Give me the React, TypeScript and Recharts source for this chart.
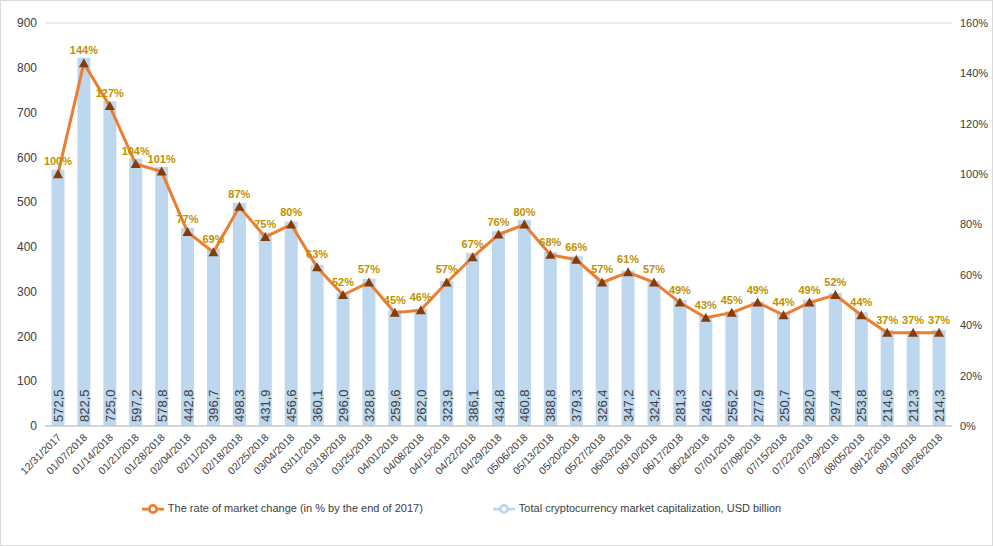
import { ComposedChart, Bar, Line, XAxis, YAxis, CartesianGrid, Legend, LabelList } from "recharts";

// Weekly dates
const dates = [
  "12/31/2017", "01/07/2018", "01/14/2018", "01/21/2018", "01/28/2018", "02/04/2018", "02/11/2018",
  "02/18/2018", "02/25/2018", "03/04/2018", "03/11/2018", "03/18/2018", "03/25/2018", "04/01/2018",
  "04/08/2018", "04/15/2018", "04/22/2018", "04/29/2018", "05/06/2018", "05/13/2018", "05/20/2018",
  "05/27/2018", "06/03/2018", "06/10/2018", "06/17/2018", "06/24/2018", "07/01/2018", "07/08/2018",
  "07/15/2018", "07/22/2018", "07/29/2018", "08/05/2018", "08/12/2018", "08/19/2018", "08/26/2018",
];

// Total market cap, USD billion
const marketCap = [
  572.5, 822.5, 725.0, 597.2, 578.8, 442.8, 396.7, 498.3, 431.9, 456.6, 360.1, 296.0, 328.8, 259.6,
  262.0, 323.9, 386.1, 434.8, 460.8, 388.8, 379.3, 326.4, 347.2, 324.2, 281.3, 246.2, 256.2, 277.9,
  250.7, 282.0, 297.4, 253.8, 214.6, 212.3, 214.3,
];

// Change vs end of 2017, %
const rate = [
  100, 144, 127, 104, 101, 77, 69, 87, 75, 80, 63, 52, 57, 45, 46, 57, 67, 76, 80, 68, 66, 57, 61, 57,
  49, 43, 45, 49, 44, 49, 52, 44, 37, 37, 37,
];

const leftTicks = [0, 100, 200, 300, 400, 500, 600, 700, 800, 900];
const rightTicks = [0, 20, 40, 60, 80, 100, 120, 140, 160];

const data = dates.map((d, i) => ({ date: d, cap: marketCap[i], rate: rate[i] }));

const font = "'Liberation Sans', Arial, sans-serif";

const Triangle = (props: any) => {
  const { cx, cy } = props;
  if (cx == null || cy == null) return null;
  return <polygon points={`${cx},${cy - 5} ${cx - 5},${cy + 4} ${cx + 5},${cy + 4}`} fill="#843C0C" />;
};

const CapLabel = (props: any) => {
  const { x, y, width, height, value } = props;
  const tx = x + width / 2 + 5;
  const ty = y + height - 4;
  return (
    <text x={tx} y={ty} transform={`rotate(-90 ${tx} ${ty})`} fontSize={13} fill="#404040" fontFamily={font}>
      {Number(value).toFixed(1).replace(".", ",")}
    </text>
  );
};

const DateTick = (props: any) => {
  const { x, y, payload } = props;
  return (
    <text x={x + 4} y={y + 4} transform={`rotate(-45 ${x + 4} ${y + 4})`} textAnchor="end" fontSize={10.5} fill="#404040" fontFamily={font}>
      {payload.value}
    </text>
  );
};

export default function App() {
  return (
    <div style={{ position: "absolute", left: 0, top: 0, width: 993, height: 546, background: "#fff", boxSizing: "border-box", border: "1px solid #d9d9d9" }}>
      <ComposedChart width={991} height={544} data={data} margin={{ top: 22, right: 2, left: 2, bottom: 12 }} barCategoryGap="25%" style={{ fontFamily: font }}>
        <CartesianGrid vertical={false} stroke="#d9d9d9" />
        <XAxis dataKey="date" interval={0} tick={<DateTick />} height={72} tickLine={false} axisLine={{ stroke: "#bfbfbf" }} />
        <YAxis yAxisId="l" domain={[0, 900]} ticks={leftTicks} width={42} tick={{ fontSize: 12, fill: "#404040" }} axisLine={false} tickLine={false} />
        <YAxis yAxisId="r" orientation="right" domain={[0, 160]} ticks={rightTicks} width={38} tickFormatter={(v) => `${v}%`} tick={{ fontSize: 11, fill: "#404040" }} axisLine={false} tickLine={false} />
        <Legend verticalAlign="bottom" height={35} iconSize={22} wrapperStyle={{ fontSize: 11 }}
          formatter={(v) => <span style={{ color: "#404040", marginRight: 60 }}>{v}</span>}
        />
        <Bar yAxisId="l" dataKey="cap" name="Total cryptocurrency market capitalization, USD billion" legendType="line" fill="#BDD7EE" isAnimationActive={false}>
          <LabelList dataKey="cap" content={<CapLabel />} />
        </Bar>
        <Line yAxisId="r" dataKey="rate" name="The rate of market change (in % by the end of 2017)" legendType="line" stroke="#ED7D31" strokeWidth={3} dot={<Triangle />} activeDot={false} isAnimationActive={false}>
          <LabelList dataKey="rate" position="top" offset={9} formatter={(v: any) => `${v}%`} style={{ fontSize: 11, fontWeight: "bold", fill: "#BF9000" }} />
        </Line>
      </ComposedChart>
    </div>
  );
}
